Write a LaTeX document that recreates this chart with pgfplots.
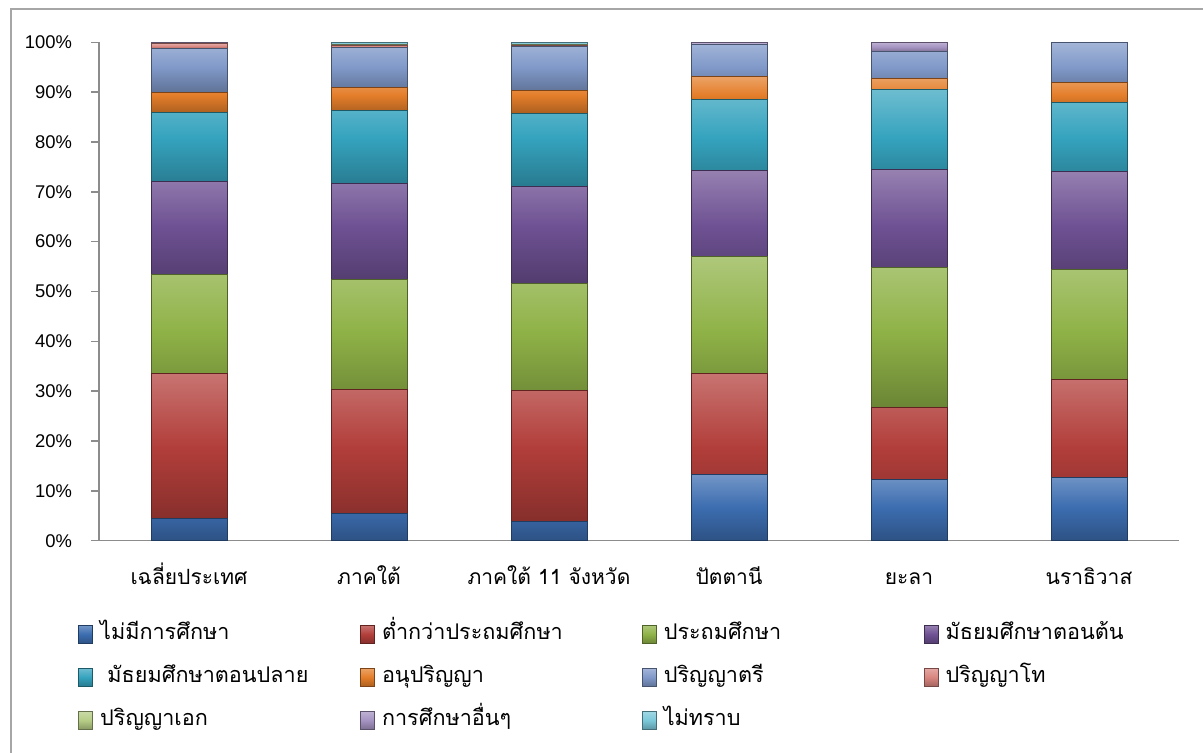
\documentclass[border=0pt]{standalone}
\usepackage{pgfplots}
\usepackage{pgfplotstable}
\pgfplotsset{compat=1.18}
\usepackage{fontspec}
\setmainfont{Liberation Sans}
\newfontfamily\thai[Script=Thai]{Loma}

\definecolor{c1}{HTML}{3C6DB0}
\definecolor{c2}{HTML}{B23E3A}
\definecolor{c3}{HTML}{8FB247}
\definecolor{c4}{HTML}{6E5193}
\definecolor{c5}{HTML}{35A3BE}
\definecolor{c6}{HTML}{E47E2A}
\definecolor{c7}{HTML}{8099C9}
\definecolor{c8}{HTML}{D9857F}
\definecolor{c9}{HTML}{B5CC85}
\definecolor{c10}{HTML}{A593C2}
\definecolor{c11}{HTML}{7BC8D9}
\definecolor{axgray}{HTML}{8C8C8C}
\definecolor{framegray}{HTML}{A6A6A6}

\pgfplotstableread{
x s1 s2 s3 s4 s5 s6 s7 s8 s9 s10 s11
0 4.5 29.0 19.9 18.6 14.0 4.0 8.7 1.0 0.1 0.1 0.1
1 5.5 24.9 22.1 19.2 14.6 4.7 7.9 0.5 0.1 0.1 0.4
2 3.8 26.3 21.6 19.4 14.6 4.7 8.7 0.3 0.1 0.1 0.4
3 13.3 20.3 23.4 17.3 14.2 4.6 6.4 0 0 0.5 0
4 12.2 14.6 28.1 19.6 16.0 2.2 5.4 0 0 1.9 0
5 12.6 19.7 22.2 19.6 13.8 4.1 8.0 0 0 0 0
}\data

\pgfplotsset{bv/.style={draw=#1!55!black, line width=0.4pt, top color=#1!72!white, bottom color=#1!75!black, middle color=#1}}
\newcommand\legtxt[1]{\makebox[128pt][l]{\thai #1}}

\begin{document}
\begin{tikzpicture}
\useasboundingbox (0,0) rectangle (601.5pt,376.5pt);
\draw[framegray, line width=0.7pt] (5.5pt,0) -- (5.5pt,372pt) -- (610pt,372pt);
\begin{axis}[
  at={(49.5pt,106.15pt)}, anchor=south west,
  scale only axis, width=540pt, height=249.2pt,
  ybar stacked, bar width=38pt,
  xmin=-0.5, xmax=5.5, ymin=0, ymax=100,
  axis lines*=left,
  axis line style={draw=axgray, line width=0.7pt},
  tick style={draw=axgray, line width=0.7pt},
  tick align=outside, major tick length=4pt, minor tick length=4pt,
  xtick={0,...,5},
  xticklabels={เฉลี่ยประเทศ, ภาคใต้, ภาคใต้ 11 จังหวัด, ปัตตานี, ยะลา, นราธิวาส},
  xticklabel style={font=\thai\fontsize{10.5pt}{12pt}\selectfont, anchor=north, text height=11pt, text depth=3pt, yshift=-3.5pt},
  xtick style={draw=none},
  minor xtick={-0.5,0.5,...,5.5},
  ytick={0,10,...,100},
  yticklabel={\pgfmathprintnumber{\tick}\%},
  yticklabel style={font=\fontsize{9.2pt}{11pt}\selectfont, xshift=-6pt},
  /pgf/number format/assume math mode=true,
  legend columns=4,
  legend style={at={(-0.025,-0.149)}, anchor=north west, draw=none, fill=none,
    row sep=6.5pt, column sep=0pt,
    /tikz/every odd column/.style={column sep=1.5pt},
    nodes={inner sep=2pt, text height=8pt, text depth=3pt},
    font=\thai\fontsize{10.8pt}{12pt}\selectfont},
  every axis plot post/.append style={legend image code/.code={\draw[#1] (0pt,-4.5pt) rectangle (7pt,4.5pt);}},
]
\addplot[bv=c1] table[x=x,y=s1]{\data};
\addplot[bv=c2] table[x=x,y=s2]{\data};
\addplot[bv=c3] table[x=x,y=s3]{\data};
\addplot[bv=c4] table[x=x,y=s4]{\data};
\addplot[bv=c5] table[x=x,y=s5]{\data};
\addplot[bv=c6] table[x=x,y=s6]{\data};
\addplot[bv=c7] table[x=x,y=s7]{\data};
\addplot[bv=c8] table[x=x,y=s8]{\data};
\addplot[bv=c9] table[x=x,y=s9]{\data};
\addplot[bv=c10] table[x=x,y=s10]{\data};
\addplot[bv=c11] table[x=x,y=s11]{\data};
\legend{\legtxt{ไม่มีการศึกษา}, \legtxt{ต่ำกว่าประถมศึกษา}, \legtxt{ประถมศึกษา}, \legtxt{มัธยมศึกษาตอนต้น},
  \legtxt{\ มัธยมศึกษาตอนปลาย}, \legtxt{อนุปริญญา}, \legtxt{ปริญญาตรี}, \legtxt{ปริญญาโท},
  \legtxt{ปริญญาเอก}, \legtxt{การศึกษาอื่นๆ}, \legtxt{ไม่ทราบ}}
\end{axis}
\end{tikzpicture}
\end{document}
